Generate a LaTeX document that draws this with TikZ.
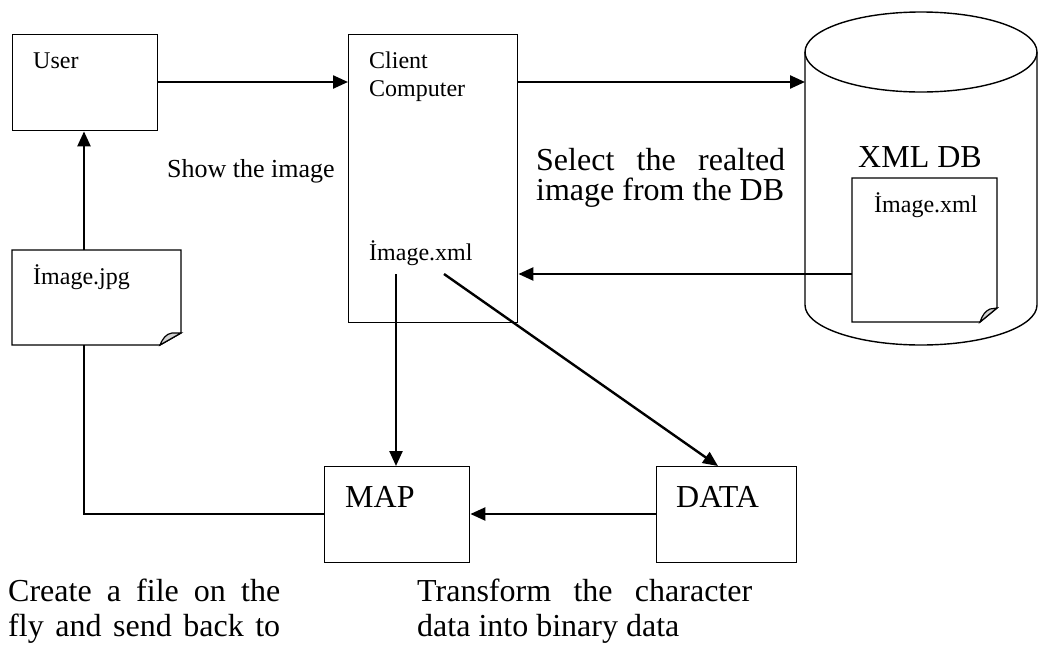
\documentclass[tikz,border=0pt]{standalone}
\usepackage{fontspec}
\setmainfont{Liberation Serif}
\usetikzlibrary{arrows.meta}
\newcommand{\smalltxt}{\fontsize{24}{28}\selectfont}
\newcommand{\midtxt}{\fontsize{26}{30}\selectfont}
\newcommand{\bigtxt}{\fontsize{32}{35}\selectfont}
\begin{document}
\begin{tikzpicture}[x=1pt,y=-1pt,
  box/.style={draw,line width=1.4pt,rectangle,inner sep=0pt,anchor=north west},
  flow/.style={line width=2.4pt,-{Triangle[length=15pt,width=13pt]}},
  plainline/.style={line width=2.2pt},
  lbl/.style={anchor=base west,inner sep=0pt},
  docline/.style={line width=1.4pt},
  fold/.style={line width=1.2pt,fill=gray!35}]
\useasboundingbox (0,0) rectangle (1039,646);

% boxes
\node[box,minimum width=145pt,minimum height=96pt] (user) at (12,34) {};
\node[box,minimum width=169pt,minimum height=288pt] (client) at (348,34) {};
\node[box,minimum width=145pt,minimum height=96pt] (map) at (324,466) {};
\node[box,minimum width=140pt,minimum height=96pt] (data) at (656,466) {};

% database cylinder
\draw[line width=1.4pt] (805,52) -- (805,305)
  arc[start angle=180,end angle=0,x radius=116,y radius=40] -- (1037,52);
\draw[line width=1.4pt] (921,52) ellipse[x radius=116,y radius=40];
\coordinate (dbin) at (805,82);

% document with folded corner: Image.jpg
\draw[docline,fill=white] (12,250) -- (181,250) -- (181,333) -- (160,345) -- (12,345) -- cycle;
\draw[fold] (160,345) .. controls (163,338) and (166,334) .. (172,333) -- (181,333) -- cycle;
\coordinate (jpgtop) at (84,250);
\coordinate (jpgbot) at (84,345);

% document with folded corner inside the database: Image.xml
\draw[docline,fill=white] (852,178) -- (997,178) -- (997,308) -- (980,322) -- (852,322) -- cycle;
\draw[fold] (980,322) .. controls (982,316) and (985,311) .. (990,309) -- (997,308) -- cycle;
\coordinate (xmlout) at (852,274);

% labels
\node[lbl] (tuser) at (33,68) {\smalltxt User};
\node[lbl] (tclient) at (369,68) {\smalltxt Client};
\node[lbl] (tcomp) at (369,96) {\smalltxt Computer};
\node[lbl] (tshow) at (167,177) {\midtxt Show the image};
\node[lbl] (txml) at (369,260) {\smalltxt İmage.xml};
\node[lbl] (tjpg) at (33,284) {\smalltxt İmage.jpg};
\node[lbl] (tsel1) at (536,170) {\bigtxt\makebox[249pt][s]{Select the realted}};
\node[lbl] (tsel2) at (536,200) {\bigtxt image from the DB};
\node[lbl] (tdb) at (858,167) {\bigtxt XML DB};
\node[lbl] (tdbxml) at (874,212) {\smalltxt İmage.xml};
\node[lbl] (tmap) at (345,507) {\bigtxt MAP};
\node[lbl] (tdata) at (676,507) {\bigtxt DATA};
\node[lbl] (tcr1) at (8,601) {\bigtxt\makebox[272pt][s]{Create a file on the}};
\node[lbl] (tcr2) at (8,636) {\bigtxt\makebox[272pt][s]{fly and send back to}};
\node[lbl] (ttr1) at (417,601) {\bigtxt\makebox[335pt][s]{Transform the character}};
\node[lbl] (ttr2) at (417,636) {\bigtxt data into binary data};

% connector start points under the Image.xml entry
\coordinate (xmlA) at (396,274);
\coordinate (xmlB) at (444,274);
\coordinate (datatop) at (718,466);

% connectors
\draw[flow] (user.east |- 0,82) -- (client.west |- 0,82);
\draw[flow] (client.east |- 0,82) -- (dbin);
\draw[flow] (xmlout) -- (client.east |- xmlout);
\draw[flow] (jpgtop) -- (user.south -| jpgtop);
\draw[flow] (xmlA) -- (map.north -| xmlA);
\draw[flow] (xmlB) -- (datatop);
\draw[flow] (data.west |- 0,514) -- (map.east |- 0,514);
\draw[plainline] (map.west |- 0,514) -- (84,514) -- (jpgbot);
\end{tikzpicture}
\end{document}
